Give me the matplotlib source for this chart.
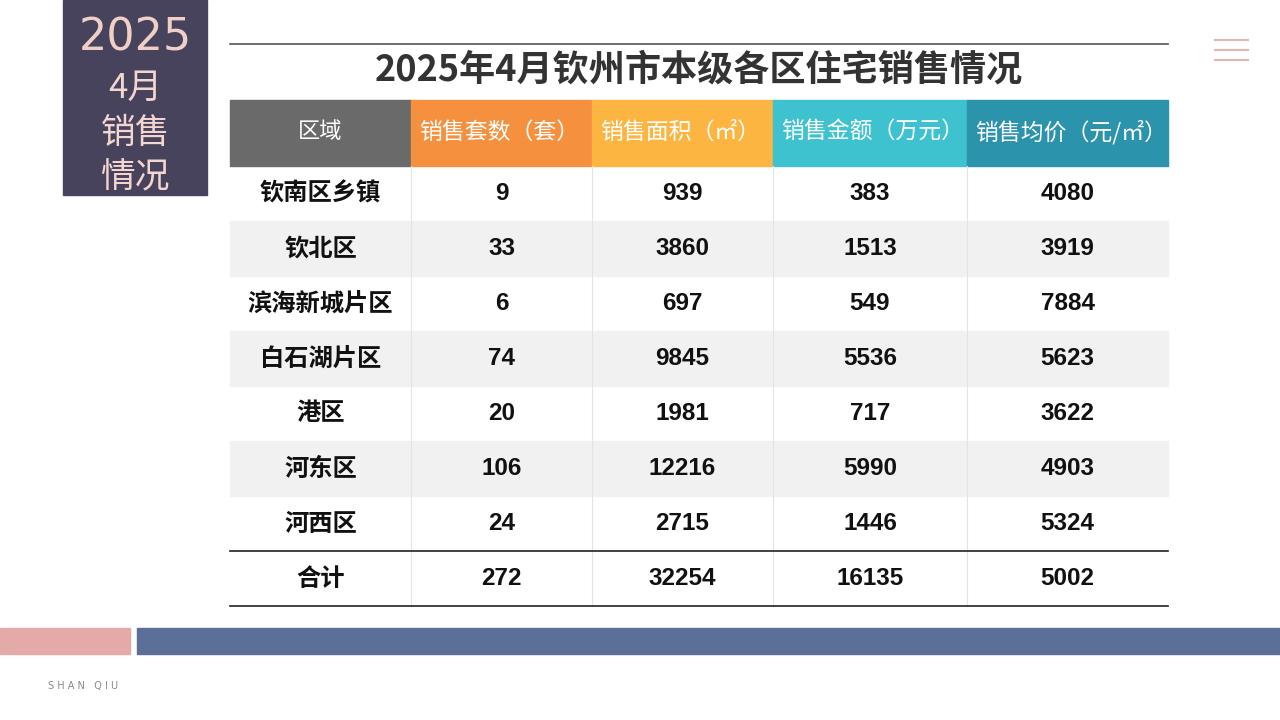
import matplotlib
matplotlib.use("Agg")
import matplotlib.pyplot as plt
from matplotlib.patches import Rectangle

title = "2025年4月钦州市本级各区住宅销售情况"
headers = ["区域", "销售套数（套）", "销售面积（㎡）", "销售金额（万元）", "销售均价（元/㎡）"]
regions = ["钦南区乡镇", "钦北区", "滨海新城片区", "白石湖片区", "港区", "河东区", "河西区", "合计"]
units = [9, 33, 6, 74, 20, 106, 24, 272]
area = [939, 3860, 697, 9845, 1981, 12216, 2715, 32254]
amount = [383, 1513, 549, 5536, 717, 5990, 1446, 16135]
price = [4080, 3919, 7884, 5623, 3622, 4903, 5324, 5002]

header_colors = ["#6a6a6a", "#f5913e", "#fbb540", "#3fc2cf", "#2c93ad"]
col_edges = [230, 411, 592, 773, 967, 1168]
row_h = 55
head_top, head_bot = 100, 166

CJK = "Noto Sans CJK SC"
fig = plt.figure(figsize=(12.8, 7.2), dpi=100)
ax = fig.add_axes([0, 0, 1, 1])
ax.set_xlim(0, 1280); ax.set_ylim(720, 0); ax.axis("off")

ax.add_patch(Rectangle((63, 0), 144, 195, color="#48435c"))
ax.text(135, 38, "2025", color="#f0cfc6", fontsize=32, ha="center", va="center", family="DejaVu Sans")
for i, t in enumerate(["4月", "销售", "情况"]):
    ax.text(135, 88 + i * 45, t, color="#f3d6cf", fontsize=25, ha="center", va="center", family=CJK)

for y in (40, 50, 60):
    ax.plot([1215, 1248], [y, y], color="#e0b8b0", lw=1.5)

ax.plot([230, 1168], [44, 44], color="#555555", lw=1.2)
ax.text(699, 70, title, fontsize=26, fontweight="bold", ha="center", va="center", family=CJK, color="#333333")

for j, h in enumerate(headers):
    x0, x1 = col_edges[j], col_edges[j + 1]
    ax.add_patch(Rectangle((x0, head_top), x1 - x0, head_bot - head_top, color=header_colors[j]))
    if j == 0:
        ax.text(x0 + 90, 132, h, color="white", fontsize=16, ha="center", va="center", family=CJK)
    else:
        ax.text(x0 + 8, 132, h, color="white", fontsize=16.5, ha="left", va="center", family=CJK)

n = len(regions)
for i in range(n):
    y0 = head_bot + i * row_h
    if i % 2 == 1 and i < n - 1:
        ax.add_patch(Rectangle((230, y0), 938, row_h, color="#f1f1f1"))
    vals = [regions[i], units[i], area[i], amount[i], price[i]]
    for j, v in enumerate(vals):
        cx = (col_edges[j] + col_edges[j + 1]) / 2
        fam = CJK if j == 0 else "Liberation Sans"
        ax.text(cx, y0 + row_h / 2, str(v), fontsize=17.5, fontweight="bold", ha="center", va="center",
                family=fam, color="#111111")
for x in col_edges[1:-1]:
    ax.plot([x, x], [head_bot, head_bot + n * row_h], color="#e4e4e4", lw=0.8)
ax.plot([230, 1168], [head_bot + (n - 1) * row_h] * 2, color="#222222", lw=1.2)
ax.plot([230, 1168], [head_bot + n * row_h] * 2, color="#222222", lw=1.2)

ax.add_patch(Rectangle((0, 628), 130, 26, color="#e3aaa8"))
ax.add_patch(Rectangle((137, 628), 1143, 26, color="#5b6f98"))
ax.text(48, 686, "S H A N   Q I U", fontsize=7, color="#888888", va="center")

fig.savefig("out.png", dpi=100)
